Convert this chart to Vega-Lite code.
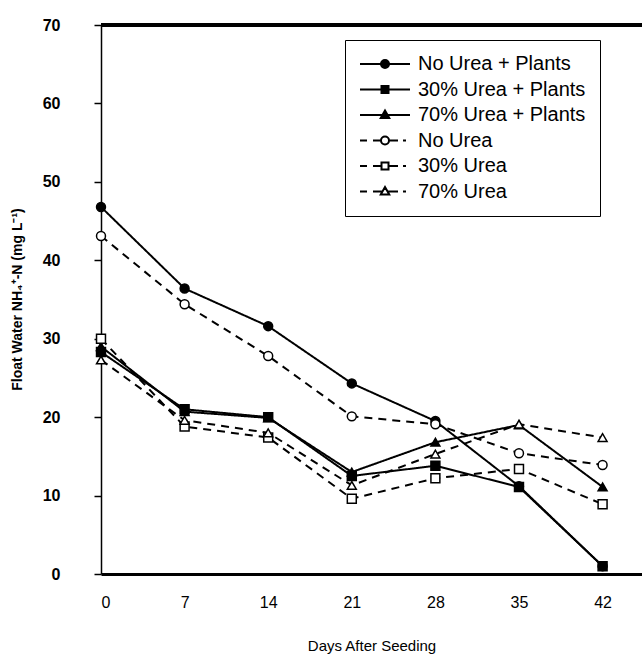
{
  "$schema": "https://vega.github.io/schema/vega-lite/v6.json",
  "width": 541,
  "height": 549,
  "autosize": {"type": "none"},
  "padding": {"left": 101, "top": 25, "right": 0, "bottom": 84},
  "background": "white",
  "config": {
    "view": {"stroke": null},
    "font": "Liberation Sans",
    "axis": {"grid": false, "domainColor": "black", "tickColor": "black", "labelColor": "black", "titleColor": "black", "labelFont": "Liberation Sans", "titleFont": "Liberation Sans"}
  },
  "data": {
    "values": [
      {"series": "No Urea + Plants", "day": 0, "value": 46.8},
      {"series": "No Urea + Plants", "day": 7, "value": 36.4},
      {"series": "No Urea + Plants", "day": 14, "value": 31.6},
      {"series": "No Urea + Plants", "day": 21, "value": 24.3},
      {"series": "No Urea + Plants", "day": 28, "value": 19.5},
      {"series": "No Urea + Plants", "day": 35, "value": 11.2},
      {"series": "No Urea + Plants", "day": 42, "value": 1.0},
      {"series": "30% Urea + Plants", "day": 0, "value": 28.3},
      {"series": "30% Urea + Plants", "day": 7, "value": 21.0},
      {"series": "30% Urea + Plants", "day": 14, "value": 20.0},
      {"series": "30% Urea + Plants", "day": 21, "value": 12.5},
      {"series": "30% Urea + Plants", "day": 28, "value": 13.8},
      {"series": "30% Urea + Plants", "day": 35, "value": 11.1},
      {"series": "30% Urea + Plants", "day": 42, "value": 1.0},
      {"series": "70% Urea + Plants", "day": 0, "value": 29.0},
      {"series": "70% Urea + Plants", "day": 7, "value": 20.7},
      {"series": "70% Urea + Plants", "day": 14, "value": 19.9},
      {"series": "70% Urea + Plants", "day": 21, "value": 13.0},
      {"series": "70% Urea + Plants", "day": 28, "value": 16.8},
      {"series": "70% Urea + Plants", "day": 35, "value": 19.0},
      {"series": "70% Urea + Plants", "day": 42, "value": 11.1},
      {"series": "No Urea", "day": 0, "value": 43.1},
      {"series": "No Urea", "day": 7, "value": 34.4},
      {"series": "No Urea", "day": 14, "value": 27.8},
      {"series": "No Urea", "day": 21, "value": 20.1},
      {"series": "No Urea", "day": 28, "value": 19.1},
      {"series": "No Urea", "day": 35, "value": 15.4},
      {"series": "No Urea", "day": 42, "value": 13.9},
      {"series": "30% Urea", "day": 0, "value": 30.0},
      {"series": "30% Urea", "day": 7, "value": 18.8},
      {"series": "30% Urea", "day": 14, "value": 17.4},
      {"series": "30% Urea", "day": 21, "value": 9.6},
      {"series": "30% Urea", "day": 28, "value": 12.2},
      {"series": "30% Urea", "day": 35, "value": 13.4},
      {"series": "30% Urea", "day": 42, "value": 8.9},
      {"series": "70% Urea", "day": 0, "value": 27.3},
      {"series": "70% Urea", "day": 7, "value": 19.6},
      {"series": "70% Urea", "day": 14, "value": 18.0},
      {"series": "70% Urea", "day": 21, "value": 11.3},
      {"series": "70% Urea", "day": 28, "value": 15.3},
      {"series": "70% Urea", "day": 35, "value": 19.1},
      {"series": "70% Urea", "day": 42, "value": 17.4}
    ]
  },
  "encoding": {
    "x": {
      "field": "day", "type": "quantitative",
      "scale": {"domain": [0, 45.3], "nice": false, "zero": false},
      "axis": {"title": "Days After Seeding", "values": [0, 7, 14, 21, 28, 35, 42], "ticks": false, "domainWidth": 3, "labelFontSize": 16, "labelPadding": 20, "titleFontSize": 15, "titleFontWeight": "normal", "titleY": 71, "titleBaseline": "middle"}
    },
    "y": {
      "field": "value", "type": "quantitative",
      "scale": {"domain": [0, 70], "nice": false},
      "axis": {"title": "Float Water NH₄⁺-N (mg L⁻¹)", "values": [0, 10, 20, 30, 40, 50, 60, 70], "tickSize": 7, "tickWidth": 1.5, "domainWidth": 1.5, "labelFontSize": 16, "labelFontWeight": "bold", "labelPadding": 34, "titleFontSize": 14, "titleFontWeight": "bold", "titleX": -84, "titleY": 274, "titleAngle": -90, "titleBaseline": "middle"}
    }
  },
  "layer": [
    {
      "mark": {"type": "rule", "color": "black", "strokeWidth": 3},
      "encoding": {"y": {"datum": 70, "type": "quantitative"}, "x": {"value": 0}, "x2": {"value": 541}}
    },
    {
      "mark": {"type": "line", "color": "black", "strokeWidth": 2},
      "encoding": {
        "detail": {"field": "series"},
        "strokeDash": {
          "field": "series", "type": "nominal",
          "scale": {"domain": ["70% Urea", "30% Urea", "No Urea", "70% Urea + Plants", "30% Urea + Plants", "No Urea + Plants"], "range": [[8, 6], [8, 6], [8, 6], [1, 0], [1, 0], [1, 0]]},
          "legend": null
        }
      }
    },
    {
      "mark": {"type": "point", "filled": true, "stroke": "black", "strokeWidth": 1.5},
      "encoding": {
        "size": {"value": 80},
        "fill": {
          "field": "series", "type": "nominal",
          "scale": {"domain": ["No Urea + Plants", "No Urea", "30% Urea + Plants", "30% Urea", "70% Urea + Plants", "70% Urea"], "range": ["black", "white", "black", "white", "black", "white"]},
          "legend": null
        },
        "shape": {
          "field": "series", "type": "nominal",
          "scale": {"domain": ["No Urea", "30% Urea", "70% Urea", "No Urea + Plants", "30% Urea + Plants", "70% Urea + Plants"], "range": ["circle", "square", "triangle-up", "circle", "square", "triangle-up"]},
          "legend": null
        },
        "opacity": {
          "field": "series", "type": "nominal",
          "scale": {"domain": ["No Urea + Plants", "30% Urea + Plants", "70% Urea + Plants", "No Urea", "30% Urea", "70% Urea"], "range": [1, 1, 1, 1, 1, 1]},
          "legend": {
            "title": null,
            "orient": "none",
            "legendX": 244,
            "legendY": 15,
            "strokeColor": "black",
            "fillColor": "white",
            "padding": 14,
            "labelFont": "Liberation Sans",
            "labelFontSize": 20,
            "labelColor": "black",
            "labelLimit": 400,
            "symbolSize": 100,
            "symbolOffset": 16,
            "labelOffset": 23,
            "rowPadding": 5.5,
            "symbolStrokeWidth": 2,
            "symbolStrokeColor": "black",
            "symbolFillColor": {"expr": "indexof(datum.value, 'Plants') >= 0 ? 'black' : 'white'"},
            "symbolType": {"expr": "datum.value === 'No Urea + Plants' ? 'M-5,0L5,0M0.8,0A0.8,0.8 0 1,1 -0.8,0A0.8,0.8 0 1,1 0.8,0Z' : datum.value === '30% Urea + Plants' ? 'M-5,0L5,0M-0.7,-0.7L0.7,-0.7L0.7,0.7L-0.7,0.7Z' : datum.value === '70% Urea + Plants' ? 'M-5,0L5,0M0,-0.9L0.85,0.6L-0.85,0.6Z' : datum.value === 'No Urea' ? 'M-5,0L-3.6,0M-2.4,0L-0.8,0M0.8,0A0.8,0.8 0 1,1 -0.8,0A0.8,0.8 0 1,1 0.8,0M0.8,0L2.6,0M3.6,0L4.2,0' : datum.value === '30% Urea' ? 'M-5,0L-3.6,0M-2.4,0L-0.7,0M-0.7,-0.7L0.7,-0.7L0.7,0.7L-0.7,0.7ZM0.7,0L2.6,0M3.6,0L4.2,0' : 'M-5,0L-3.6,0M-2.4,0L-0.6,0M0,-0.9L0.85,0.6L-0.85,0.6ZM0.6,0L2.6,0M3.6,0L4.2,0'"}
          }
        }
      }
    }
  ]
}
